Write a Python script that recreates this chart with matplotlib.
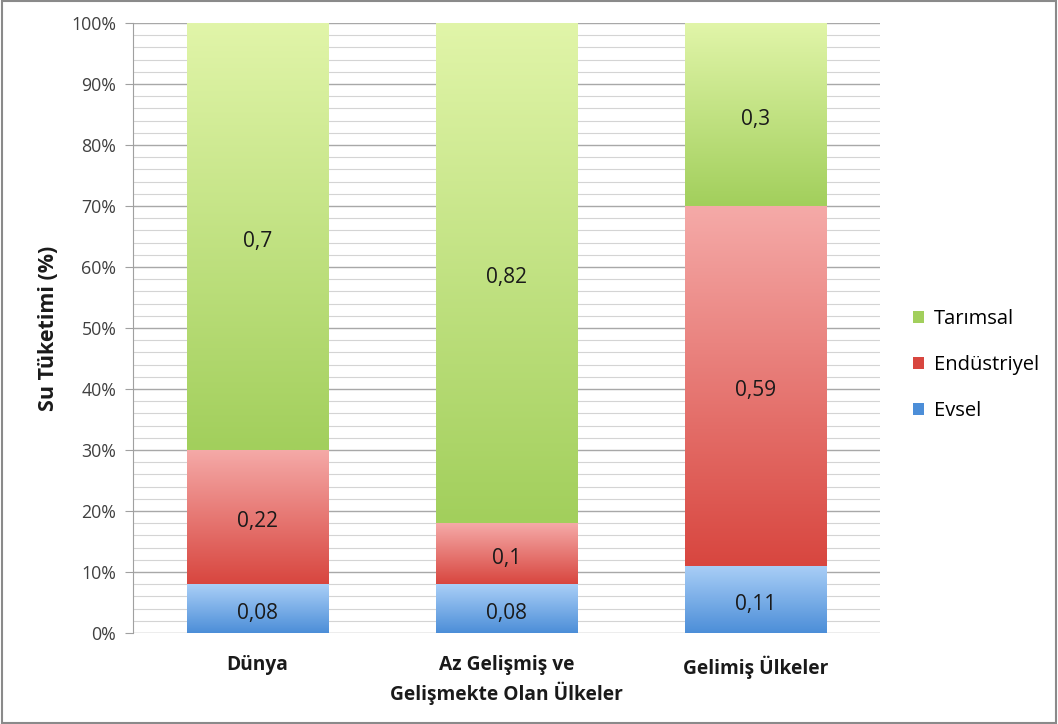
import numpy as np
import matplotlib
matplotlib.use("Agg")
import matplotlib.pyplot as plt
from matplotlib.colors import LinearSegmentedColormap
from matplotlib.patches import Rectangle

plt.rcParams['font.family'] = ['Open Sans', 'DejaVu Sans']

categories = ["Dünya", "Az Gelişmiş ve\nGelişmekte Olan Ülkeler", "Gelimiş Ülkeler"]
evsel = [0.08, 0.08, 0.11]
endustriyel = [0.22, 0.10, 0.59]
tarimsal = [0.70, 0.82, 0.30]
series_names = ["Evsel", "Endüstriyel", "Tarımsal"]
yticks = [0, 10, 20, 30, 40, 50, 60, 70, 80, 90, 100]

grad = {
    "Evsel": ("#aacff7", "#4c8ed8"),
    "Endüstriyel": ("#f5aaa8", "#d8463f"),
    "Tarımsal": ("#e1f5a9", "#a2cf5c"),
}

fig = plt.figure(figsize=(10.58, 7.24), dpi=100)
ax = fig.add_axes([133/1058, 1-633/724, 747/1058, 610/724])

x = np.arange(len(categories))
width = 0.57
bottom = np.zeros(len(categories))
data = [evsel, endustriyel, tarimsal]
handles = []
for name, vals in zip(series_names, data):
    vals = np.array(vals) * 100
    bars = ax.bar(x, vals, width, bottom=bottom, color="none", edgecolor="none", zorder=3, label=name)
    top_c, bot_c = grad[name]
    cmap = LinearSegmentedColormap.from_list(name, [bot_c, top_c])
    for b, v in zip(bars, vals):
        x0, y0 = b.get_x(), b.get_y()
        w, h = b.get_width(), b.get_height()
        g = np.linspace(0, 1, 256).reshape(-1, 1)
        im = ax.imshow(g, cmap=cmap, origin="lower", aspect="auto",
                       extent=[x0, x0 + w, y0, y0 + h], zorder=3)
        im.set_clip_path(b)
        txt = f"{v/100:g}".replace(".", ",")
        ax.annotate(txt, (x0 + w/2, y0 + h/2), xytext=(0, -3.5), textcoords="offset points",
                    ha="center", va="center", fontsize=15, color="#1a1a1a", zorder=4)
    handles.append(Rectangle((0, 0), 1, 1, facecolor=bot_c, edgecolor="none"))
    bottom += vals

ax.set_xlim(-0.5, len(categories) - 0.5)
ax.set_ylim(0, 100)
ax.set_yticks(yticks)
ax.set_yticklabels([f"{t}%" for t in yticks], fontsize=12.8, color="#404040")
ax.set_yticks(np.arange(0, 101, 2), minor=True)
ax.tick_params(axis="y", which="major", length=6, color="#a0a0a0", pad=6)
ax.tick_params(axis="y", which="minor", length=0)
ax.grid(axis="y", which="major", color="#a8a8a8", linewidth=1.0, zorder=0)
ax.grid(axis="y", which="minor", color="#d4d4d4", linewidth=0.8, zorder=0)
ax.set_axisbelow(True)
ax.set_xticks(x)
ax.set_xticklabels(categories, fontsize=13.8, fontweight="bold", color="#1a1a1a",
                   linespacing=1.35)
ax.tick_params(axis="x", length=0, pad=16)
for s in ["top", "right", "bottom"]:
    ax.spines[s].set_visible(False)
ax.spines["left"].set_color("#a0a0a0")
ax.set_ylabel("Su Tüketimi (%)", fontsize=15.5, fontweight="bold", color="#1a1a1a", labelpad=9)

leg = fig.legend(handles[::-1], series_names[::-1], loc="center left",
                 bbox_to_anchor=(895/1058, 1-365/724), frameon=False,
                 fontsize=14.5, handlelength=0.55, handleheight=0.55,
                 labelspacing=1.3, handletextpad=0.5)

fig.patches.append(Rectangle((0.002, 0.002), 0.996, 0.996, transform=fig.transFigure,
                             fill=False, edgecolor="#8a8a8a", linewidth=1.5))
fig.savefig("out.png", dpi=100)
